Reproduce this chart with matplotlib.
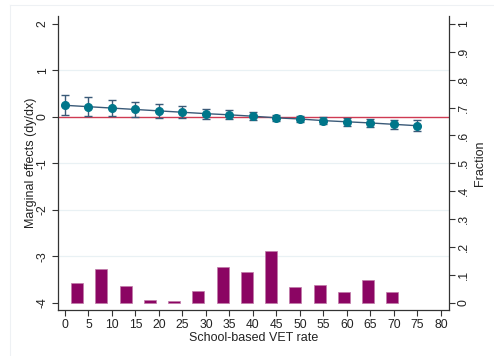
import matplotlib
matplotlib.use("Agg")
import matplotlib.pyplot as plt
import numpy as np

plt.rcParams["font.family"] = ["Liberation Sans", "DejaVu Sans"]

# marginal effects of the school-based VET rate, with 95% CI half widths
vet_rate = [0, 5, 10, 15, 20, 25, 30, 35, 40, 45, 50, 55, 60, 65, 70, 75]
margins = [0.25, 0.22, 0.19, 0.16, 0.13, 0.10, 0.07, 0.045, 0.015, -0.02,
           -0.045, -0.08, -0.105, -0.13, -0.16, -0.19]
ci_half = [0.215, 0.20, 0.18, 0.165, 0.145, 0.13, 0.11, 0.10, 0.08, 0.07,
           0.065, 0.07, 0.08, 0.09, 0.10, 0.115]

# histogram of the VET rate (fraction per bin)
hist_start = 0.0
hist_width = 5.16
fractions = [0.07, 0.12, 0.06, 0.011, 0.006, 0.041, 0.129, 0.109, 0.184,
             0.055, 0.065, 0.04, 0.08, 0.04]

x_ticks = list(range(0, 85, 5))
y_ticks = [2, 1, 0, -1, -2, -3, -4]
frac_ticks = [0, 0.1, 0.2, 0.3, 0.4, 0.5, 0.6, 0.7, 0.8, 0.9, 1.0]
frac_labels = ["0", ".1", ".2", ".3", ".4", ".5", ".6", ".7", ".8", ".9", "1"]

fig = plt.figure(figsize=(4.94, 3.56), dpi=100)
ax = fig.add_axes([0.1168, 0.1292, 0.792, 0.8258])
ax2 = ax.twinx()

ylo, yhi = -4.157, 2.172
ax.set_xlim(-1.55, 81.7)
ax.set_ylim(ylo, yhi)
ax2.set_ylim((ylo + 4) / 6, (yhi + 4) / 6)

grid_col = "#e9f1f4"
for g in [1, -1, -2, -3]:
    ax.axhline(g, color=grid_col, lw=0.9, zorder=0)

ax.axhline(0, color="#cf3a52", lw=1.0, zorder=1)
ax.errorbar(vet_rate, margins, yerr=ci_half, fmt="none", ecolor="#3a5a78",
            elinewidth=1.0, capsize=3, capthick=1.0, zorder=2)
ax.plot(vet_rate, margins, color="#3a5a78", lw=1.0, zorder=3)
ax.plot(vet_rate, margins, "o", color="#00768a", ms=5.5, zorder=4)

centers = [hist_start + (i + 0.5) * hist_width for i in range(len(fractions))]
ax2.bar(centers, fractions, width=hist_width * 0.5, color="#8b0563",
        edgecolor="#c07aa8", linewidth=0.5)

# axes styling
for a in (ax, ax2):
    a.spines["top"].set_visible(False)
    for s in ("left", "right", "bottom"):
        a.spines[s].set_color("#333333")
        a.spines[s].set_linewidth(0.9)
ax.spines["right"].set_visible(False)
ax2.spines["left"].set_visible(False)
ax2.spines["bottom"].set_visible(False)

ax.set_xticks(x_ticks)
ax.set_yticks(y_ticks)
ax.set_yticklabels([str(t) for t in y_ticks], rotation=90, va="center")
ax2.set_yticks(frac_ticks)
ax2.set_yticklabels(frac_labels, rotation=90, va="center")
for a in (ax, ax2):
    a.tick_params(axis="both", length=4.5, width=0.8, color="#333333",
                  labelsize=8.7, labelcolor="#222222", pad=2)

ax.set_xlabel("School-based VET rate", fontsize=9, color="#222222", labelpad=1)
ax.set_ylabel("Marginal effects (dy/dx)", fontsize=9, color="#222222", labelpad=0)
ax2.set_ylabel("Fraction", fontsize=9, color="#222222", labelpad=3)

# faint outer frame of the graph region
frame_col = "#eef1f4"
fig.add_artist(plt.Line2D([10 / 494, 1], [1 - 5 / 356, 1 - 5 / 356],
                          color=frame_col, lw=0.8, transform=fig.transFigure))
fig.add_artist(plt.Line2D([10 / 494, 10 / 494], [0, 1 - 5 / 356],
                          color=frame_col, lw=0.8, transform=fig.transFigure))

fig.savefig("out.png", dpi=100)
plt.close(fig)
